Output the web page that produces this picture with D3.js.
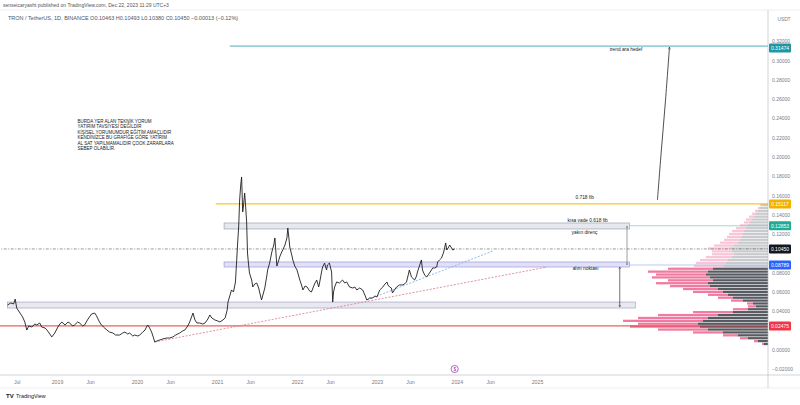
<!DOCTYPE html>
<html><head><meta charset="utf-8">
<script src="https://cdn.jsdelivr.net/npm/d3@7"></script>
<style>body{margin:0;background:#fff}svg{display:block;font-family:"Liberation Sans",Arial,sans-serif}</style>
</head><body><svg id="c" width="800" height="405"></svg>
<script>
// ---------- DATA ----------
const priceDates = ["2018-05-20","2018-06-04","2018-06-17","2018-06-24","2018-07-01","2018-07-10","2018-07-19","2018-07-28","2018-08-07","2018-08-16","2018-08-25","2018-09-08","2018-09-22","2018-10-01","2018-10-14","2018-10-23","2018-11-07","2018-11-16","2018-11-29","2018-12-08","2018-12-22",
"2019-01-05","2019-01-14","2019-01-23","2019-02-07","2019-02-20","2019-02-28","2019-03-13","2019-03-22","2019-04-05","2019-04-14","2019-04-28","2019-05-07","2019-05-20","2019-05-29","2019-06-08","2019-06-22","2019-07-01","2019-07-05","2019-07-14","2019-07-23","2019-08-07","2019-08-16","2019-08-29","2019-09-13","2019-09-26","2019-10-14","2019-10-28","2019-11-07","2019-11-20","2019-11-29","2019-12-13","2019-12-22",
"2020-01-05","2020-01-14","2020-01-28","2020-02-07","2020-02-16","2020-02-20","2020-02-28","2020-03-08","2020-03-17","2020-03-22","2020-04-01","2020-04-14","2020-04-28","2020-05-16","2020-05-29","2020-06-13","2020-06-26","2020-07-14","2020-07-28","2020-08-07","2020-08-20","2020-08-29","2020-09-08","2020-09-13","2020-09-22","2020-10-01","2020-10-14","2020-10-28","2020-11-07","2020-11-20","2020-11-29","2020-12-08","2020-12-22",
"2021-01-05","2021-01-14","2021-01-28","2021-02-07","2021-02-16","2021-02-20","2021-02-28","2021-03-08","2021-03-17","2021-03-26","2021-04-05","2021-04-10","2021-04-14","2021-04-19","2021-04-23","2021-04-28","2021-05-02","2021-05-07","2021-05-11","2021-05-16","2021-05-20","2021-05-25","2021-05-29","2021-06-08","2021-06-13","2021-06-22","2021-07-01","2021-07-10","2021-07-14","2021-07-23","2021-08-02","2021-08-07","2021-08-16","2021-08-20","2021-08-29","2021-09-08","2021-09-17","2021-09-22","2021-10-01","2021-10-10","2021-10-14","2021-10-23","2021-10-28","2021-11-07","2021-11-16","2021-11-20","2021-11-25","2021-11-29","2021-12-08","2021-12-13","2021-12-22",
"2022-01-01","2022-01-10","2022-01-14","2022-01-23","2022-01-28","2022-02-07","2022-02-16","2022-02-28","2022-03-08","2022-03-22","2022-04-01","2022-04-10","2022-04-14","2022-04-23","2022-04-28","2022-05-07","2022-05-16","2022-05-20","2022-05-29","2022-06-08","2022-06-13","2022-06-17","2022-06-22","2022-07-01","2022-07-14","2022-07-28","2022-08-07","2022-08-16","2022-08-29","2022-09-13","2022-09-22","2022-10-01","2022-10-14","2022-10-28","2022-11-07","2022-11-16","2022-11-29","2022-12-13","2022-12-22",
"2023-01-01","2023-01-14","2023-01-28","2023-02-07","2023-02-16","2023-02-20","2023-02-28","2023-03-08","2023-03-13","2023-03-22","2023-04-01","2023-04-14","2023-04-28","2023-05-07","2023-05-16","2023-05-25","2023-05-29","2023-06-08","2023-06-22","2023-07-01","2023-07-05","2023-07-14","2023-07-23","2023-07-28","2023-08-07","2023-08-16","2023-08-29","2023-09-13","2023-09-22","2023-10-01","2023-10-05","2023-10-14","2023-10-23","2023-11-02","2023-11-11","2023-11-16","2023-11-25","2023-11-29","2023-12-08","2023-12-13","2023-12-22"];
const priceValues = [0.0464,0.0485,0.0475,0.0526,0.0433,0.0402,0.0371,0.0340,0.0288,0.0205,0.0247,0.0236,0.0267,0.0257,0.0278,0.0236,0.0226,0.0205,0.0164,0.0133,0.0174,
0.0236,0.0267,0.0288,0.0257,0.0288,0.0278,0.0247,0.0257,0.0288,0.0278,0.0247,0.0257,0.0309,0.0340,0.0371,0.0381,0.0350,0.0330,0.0288,0.0257,0.0226,0.0205,0.0184,0.0174,0.0153,0.0153,0.0174,0.0184,0.0164,0.0174,0.0143,0.0153,
0.0143,0.0153,0.0184,0.0205,0.0247,0.0257,0.0226,0.0184,0.0122,0.0081,0.0091,0.0102,0.0112,0.0122,0.0122,0.0133,0.0153,0.0174,0.0195,0.0205,0.0247,0.0288,0.0350,0.0381,0.0309,0.0278,0.0278,0.0267,0.0278,0.0319,0.0361,0.0330,0.0309,
0.0298,0.0288,0.0309,0.0330,0.0412,0.0495,0.0558,0.0620,0.0599,0.0703,0.1107,0.1293,0.1552,0.1708,0.1791,0.1428,0.1501,0.1625,0.1501,0.1324,0.1003,0.0879,0.0796,0.0723,0.0651,0.0682,0.0692,0.0640,0.0599,0.0516,0.0599,0.0640,0.0765,0.0827,0.0899,0.1013,0.1086,0.1159,0.0868,0.0931,0.0962,0.1013,0.1034,0.1086,0.1159,0.1262,0.1159,0.1065,0.0982,0.0931,0.0868,
0.0827,0.0754,0.0723,0.0661,0.0620,0.0661,0.0651,0.0609,0.0599,0.0682,0.0723,0.0651,0.0692,0.0806,0.0858,0.0899,0.0827,0.0879,0.0899,0.0806,0.0495,0.0599,0.0651,0.0703,0.0692,0.0723,0.0692,0.0703,0.0651,0.0640,0.0651,0.0620,0.0640,0.0620,0.0568,0.0516,0.0537,0.0537,0.0558,
0.0547,0.0620,0.0651,0.0682,0.0703,0.0672,0.0651,0.0640,0.0589,0.0620,0.0651,0.0672,0.0672,0.0682,0.0703,0.0785,0.0827,0.0754,0.0723,0.0765,0.0806,0.0868,0.0931,0.0827,0.0775,0.0754,0.0796,0.0848,0.0848,0.0858,0.0910,0.0931,0.0951,0.1013,0.1107,0.1034,0.1065,0.1086,0.1055,0.1034,0.1045];

// right-axis ticks
const yTickValues = [-0.02,0.00,0.04,0.06,0.08,0.12,0.14,0.16,0.18,0.20,0.22,0.24,0.26,0.28,0.30,0.32];
// bottom-axis ticks
const xTickDates  = ["2018-07-01","2019-01-01","2019-06-01","2020-01-01","2020-06-01","2021-01-01","2021-06-01","2022-01-01","2022-06-01","2023-01-01","2023-06-01","2024-01-01","2024-06-01","2025-01-01"];
const xTickLabels = ["Jul","2019","Jun","2020","Jun","2021","Jun","2022","Jun","2023","Jun","2024","Jun","2025"];

// horizontal price levels
const levelNames  = ["target","fib718","fib618","last","buy","support"];
const levelValues = [0.31474,0.15117,0.12853,0.10450,0.08789,0.02475];
const levelStart  = ["2021-02-28","2020-12-26","2026-02-28","2018-04-01","2026-02-28","2018-04-01"];

// zone boxes: start, end, top, bottom
const boxStart = ["2021-02-02","2021-02-02","2018-05-20"];
const boxEnd   = ["2026-02-28","2026-02-28","2026-03-26"];
const boxTop   = [0.1314,0.0910,0.0495];
const boxBot   = [0.1252,0.0858,0.0433];

// dashed trend lines
const trendPinkDates = ["2020-03-22","2025-02-16"], trendPinkValues = [0.0081,0.0858];
const trendBlueDates = ["2022-11-16","2024-06-13"], trendBlueValues = [0.0516,0.1024];

// projection arrow
const projDates  = ["2026-07-05","2026-07-23","2026-08-11","2026-08-29"];
const projValues = [0.1552,0.2070,0.2589,0.3138];

// range arrows
const rangeArrowDates = ["2026-02-16","2026-01-14"];
const rangeArrowTop   = [0.1285,0.0858];
const rangeArrowBot   = [0.0879,0.0443];

// text notes
const noteLines = ["BURDA YER ALAN TEKNİK YORUM","YATIRIM TAVSİYESİ DEĞİLDİR","KİŞİSEL YORUMUMDUR EĞİTİM AMAÇLIDIR","KENDİNİZCE BU GRAFİĞE GÖRE YATIRIM","AL SAT YAPILMAMALIDIR ÇOOK ZARARLARA","SEBEP OLABİLİR."];
const labelTexts  = ["trend ara hedef","0.718 fib","kısa vade 0.618 fib","yakın direnç","alım noktası"];
const labelDates  = ["2025-11-29","2025-06-26","2025-05-20","2025-06-08","2025-06-13"];
const labelValues = [0.3096,0.1563,0.1324,0.1200,0.0827];

// volume profile (bin centres, up volume, down volume)
const vpPrice = [0.150,0.147,0.144,0.141,0.138,0.135,0.132,0.129,0.126,0.123,0.120,0.117,0.114,0.111,0.108,0.105,0.102,0.099,0.096,0.093,0.090,0.087,0.084,0.081,0.078,0.075,0.072,0.069,0.066,0.063,0.060,0.057,0.054,0.051,0.048,0.045,0.042,0.039,0.036,0.033,0.030,0.027,0.024,0.021,0.018,0.015,0.012,0.009,0.006];
const vpUp   = [6,8,10,12,14,16,18,20,22,24,25,26,28,30,34,38,36,34,36,40,42,44,55,60,62,58,55,60,58,50,45,40,35,25,15,12,20,35,50,60,65,70,68,60,45,30,20,10,4];
const vpDown = [2,2,3,4,5,6,6,8,10,12,14,15,16,18,20,22,20,22,26,28,30,30,45,60,50,58,45,52,40,35,30,20,15,12,6,8,15,40,60,70,80,60,70,50,30,15,8,4,2];
const vpValueAreaTop = 0.0855;

// ---------- DRAW ----------
const svg = d3.select("#c");
const P = d3.timeParse("%Y-%m-%d");
const plotL = 0, plotR = 768, plotT = 10, plotB = 375;
const x = d3.scaleTime().domain([P("2019-01-01"), P("2025-01-01")]).range([57, 537]);
const y = d3.scaleLinear().domain([-0.02, 0.32]).range([369.1, 41]);

svg.append("defs").append("clipPath").attr("id","clip")
  .append("rect").attr("x",plotL).attr("y",plotT).attr("width",plotR-plotL).attr("height",plotB-plotT);
["arrG","arrD"].forEach((id,i)=>{
  svg.select("defs").append("marker").attr("id",id).attr("viewBox","0 0 10 10").attr("refX",9).attr("refY",5)
    .attr("markerWidth",4).attr("markerHeight",4).attr("orient","auto-start-reverse")
    .append("path").attr("d","M1,1 L9,5 L1,9").attr("fill","none").attr("stroke", i? "#333":"#666").attr("stroke-width",1.4);
});

// header
svg.append("text").attr("x",3).attr("y",7).attr("font-size",5).attr("fill","#50535e")
  .text("senseicaryasht published on TradingView.com, Dec 22, 2023 11:29 UTC+3");
svg.append("line").attr("x1",0).attr("x2",800).attr("y1",10).attr("y2",10).attr("stroke","#e0e3eb").attr("stroke-width",0.6);
svg.append("text").attr("x",8).attr("y",19.5).attr("font-size",5.5).attr("fill","#50535e")
  .text("TRON / TetherUS, 1D, BINANCE  O0.10463  H0.10493  L0.10380  C0.10450  −0.00013 (−0.12%)");
svg.append("text").attr("x",784).attr("y",21).attr("font-size",4.8).attr("fill","#787b86").attr("text-anchor","middle").text("USDT");

const g = svg.append("g").attr("clip-path","url(#clip)");

// volume profile
const vx = d3.scaleLinear().domain([0,150]).range([0,150]);
const rowH = Math.abs(y(0.003)-y(0)) * 0.78;
vpPrice.forEach((p,i)=>{
  const inVA = p <= vpValueAreaTop;
  const cy = y(p);
  const up = vx(vpUp[i]), dn = vx(vpDown[i]);
  g.append("rect").attr("x",plotR-up).attr("y",cy-rowH/2).attr("width",up).attr("height",rowH)
    .attr("fill", inVA ? "#575a61" : "#c9cacd");
  g.append("rect").attr("x",plotR-up-dn).attr("y",cy-rowH/2).attr("width",dn).attr("height",rowH)
    .attr("fill", inVA ? "#f07aa0" : "#f9c6d8");
});

// boxes
const boxFill = ["rgba(200,204,214,0.45)","rgba(190,186,236,0.45)","rgba(205,205,225,0.45)"];
const boxStroke = ["#9aa4b4","#9b98d6","#a5a5c0"];
boxStart.forEach((s,i)=>{
  g.append("rect").attr("x",x(P(s))).attr("y",y(boxTop[i])).attr("width",x(P(boxEnd[i]))-x(P(s)))
    .attr("height",y(boxBot[i])-y(boxTop[i])).attr("fill",boxFill[i]).attr("stroke",boxStroke[i]).attr("stroke-width",0.7);
});

// levels
const levelColor = {target:"#1f97a2",fib718:"#f7b500",fib618:"#8cccc6",last:"#555",buy:"#a9bdf2",support:"#e53935"};
levelNames.forEach((n,i)=>{
  const ln = g.append("line").attr("x1",x(P(levelStart[i]))).attr("x2",plotR)
    .attr("y1",y(levelValues[i])).attr("y2",y(levelValues[i]))
    .attr("stroke",levelColor[n]).attr("stroke-width", n==="fib718"||n==="support"?1:0.8);
  if(n==="last") ln.attr("stroke-dasharray","3,1.5,1,1.5").attr("stroke-width",0.6);
});

// trend lines
const tl = (ds,vs,col)=>g.append("line").attr("x1",x(P(ds[0]))).attr("y1",y(vs[0])).attr("x2",x(P(ds[1]))).attr("y2",y(vs[1]))
  .attr("stroke",col).attr("stroke-width",0.8).attr("stroke-dasharray","2,1.5");
tl(trendPinkDates,trendPinkValues,"#d9748f");
tl(trendBlueDates,trendBlueValues,"#7fa6e0");

// price line
const series = priceDates.map((d,i)=>({d:P(d),v:priceValues[i]}));
g.append("path").datum(series).attr("fill","none").attr("stroke","#1e1e1e").attr("stroke-width",0.9)
  .attr("stroke-linejoin","miter").attr("d",d3.line().x(d=>x(d.d)).y(d=>y(d.v)));

// projection arrow
const proj = projDates.map((d,i)=>[x(P(d)),y(projValues[i])]);
g.append("path").attr("d",d3.line().curve(d3.curveCatmullRom)(proj)).attr("fill","none")
  .attr("stroke","#222").attr("stroke-width",0.8).attr("marker-end","url(#arrD)");

// range arrows
rangeArrowDates.forEach((d,i)=>{
  g.append("line").attr("x1",x(P(d))).attr("x2",x(P(d))).attr("y1",y(rangeArrowTop[i])).attr("y2",y(rangeArrowBot[i]))
    .attr("stroke", i? "#333":"#777").attr("stroke-width",0.7)
    .attr("marker-start", i? "url(#arrD)":"url(#arrG)").attr("marker-end", i? "url(#arrD)":"url(#arrG)");
});

// labels
labelTexts.forEach((t,i)=>{
  g.append("text").attr("x",x(P(labelDates[i]))).attr("y",y(labelValues[i])).attr("font-size",4.8).attr("fill","#131722").text(t);
});
noteLines.forEach((t,i)=>{
  g.append("text").attr("x",x(P("2019-04-05"))).attr("y",y(0.235)+i*5.4).attr("font-size",4.5).attr("fill","#131722").text(t);
});

// bottom marker
g.append("circle").attr("cx",x(P("2023-12-22"))).attr("cy",plotB-6).attr("r",3.6).attr("fill","#fff").attr("stroke","#9c27b0").attr("stroke-width",0.7);
g.append("text").attr("x",x(P("2023-12-22"))).attr("y",plotB-4.3).attr("font-size",4.6).attr("text-anchor","middle").attr("fill","#9c27b0").text("$");

// frame lines
svg.append("line").attr("x1",plotR).attr("x2",plotR).attr("y1",plotT).attr("y2",388).attr("stroke","#b2b5be").attr("stroke-width",0.6);
svg.append("line").attr("x1",0).attr("x2",800).attr("y1",plotB).attr("y2",plotB).attr("stroke","#b2b5be").attr("stroke-width",0.6);
svg.append("line").attr("x1",0).attr("x2",800).attr("y1",388).attr("y2",388).attr("stroke","#e0e3eb").attr("stroke-width",0.6);

// right axis
const ya = svg.append("g").attr("transform",`translate(${plotR+4},0)`)
  .call(d3.axisRight(y).tickValues(yTickValues).tickSize(0).tickFormat(d3.format(".5f")));
ya.select(".domain").remove();
ya.selectAll("text").attr("font-size",5).attr("fill","#787b86").attr("x",0).attr("dy","0.35em");

// bottom axis
const xa = svg.append("g").attr("transform",`translate(0,${plotB})`)
  .call(d3.axisBottom(x).tickValues(xTickDates.map(P)).tickSize(0).tickFormat((d,i)=>xTickLabels[i]));
xa.select(".domain").remove();
xa.selectAll("text").attr("font-size",5.2).attr("fill","#787b86").attr("y",5.5);

// price labels on axis
const labCol = {target:"#1f97a2",fib718:"#f2b200",fib618:"#22ab94",last:"#131722",buy:"#2962ff",support:"#f23645"};
levelNames.forEach((n,i)=>{
  const yy = y(levelValues[i]) + (n==="target"?2:0);
  svg.append("rect").attr("x",plotR+1).attr("y",yy-4.5).attr("width",22).attr("height",9).attr("rx",1).attr("fill",labCol[n]);
  svg.append("text").attr("x",plotR+12).attr("y",yy+1.8).attr("font-size",5).attr("text-anchor","middle").attr("fill","#fff").text(d3.format(".5f")(levelValues[i]));
});

// logo
svg.append("text").attr("x",6).attr("y",398).attr("font-size",6).attr("font-weight","bold").attr("fill","#131722").text("TV");
svg.append("text").attr("x",16).attr("y",398).attr("font-size",5.4).attr("fill","#131722").text("TradingView");
</script></body></html>
